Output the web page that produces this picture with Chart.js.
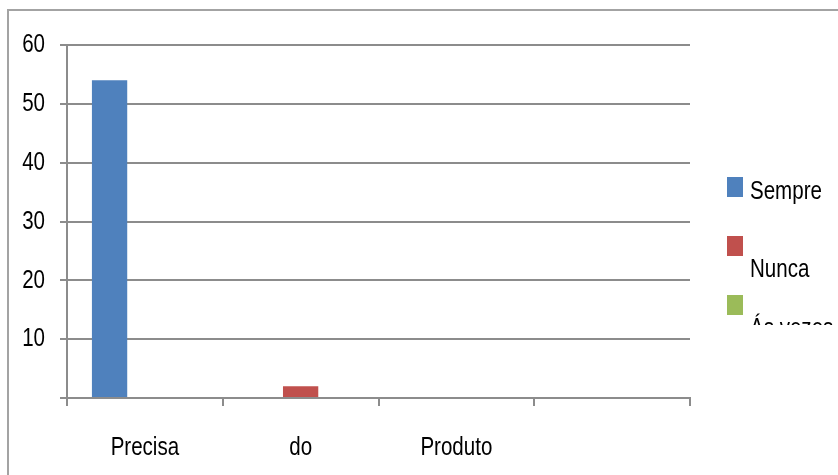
<!DOCTYPE html>
<html>
<head>
<meta charset="utf-8">
<script src="https://cdn.jsdelivr.net/npm/chart.js@4.4.0/dist/chart.umd.min.js"></script>
<style>
  html, body { margin: 0; padding: 0; background: #fff; overflow: hidden; }
  #wrap { position: relative; width: 838px; height: 475px; }
  #frame { position: absolute; left: 7px; top: 9px; width: 900px; height: 500px; border: 2px solid #a3a3a3; box-sizing: border-box; }
  #chart { position: absolute; left: 0; top: 0; }
  #legend { position: absolute; left: 720px; top: 170px; width: 118px; height: 155px; overflow: hidden;
            font-family: "Liberation Sans", Arial, sans-serif; font-size: 26px; color: #000; }
  .box { position: absolute; left: 7px; width: 16px; height: 20px; }
  .txt { position: absolute; left: 30px; white-space: nowrap; line-height: 26px;
         transform: scaleX(0.79); transform-origin: 0 0; }
</style>
</head>
<body>
<div id="wrap">
  <div id="frame"></div>
  <canvas id="chart" width="838" height="475"></canvas>
  <div id="legend"></div>
</div>
<script>
var categories = ["Precisa", "do", "Produto", ""];
var seriesNames = ["Sempre", "Nunca", "Ás vezes"];
var sempre = [54, 0, 0, 0];
var nunca = [0, 2, 0, 0];
var asVezes = [0, 0, 0, 0];
var yTicks = [0, 10, 20, 30, 40, 50, 60];

var colors = ["#4F81BD", "#C0504D", "#9BBB59"];
var fontFamily = "'Liberation Sans', Arial, sans-serif";
var gridColor = "#8c8c8c";
var textSquash = 0.79;

// legend drawn as html so the odd text placement of the original can be kept
var legendRows = [
    { box: 7, text: 7 },
    { box: 66, text: 85 },
    { box: 125, text: 144 }
];
var legendEl = document.getElementById("legend");
seriesNames.forEach(function (name, i) {
    var box = document.createElement("div");
    box.className = "box";
    box.style.top = legendRows[i].box + "px";
    box.style.background = colors[i];
    var txt = document.createElement("div");
    txt.className = "txt";
    txt.style.top = legendRows[i].text + "px";
    txt.textContent = name;
    legendEl.appendChild(box);
    legendEl.appendChild(txt);
});

// the original text is tall and narrow, so squeeze the canvas text sideways
var narrowText = {
    id: "narrowText",
    beforeDraw: function (chart) {
        var c = chart.ctx;
        if (c._narrow) return;
        var fill = c.fillText;
        c.fillText = function (text, x, y) {
            this.save();
            this.translate(x, y);
            this.scale(textSquash, 1);
            fill.call(this, text, 0, 0);
            this.restore();
        };
        c._narrow = true;
    }
};

var ctx = document.getElementById("chart").getContext("2d");
var chart = new Chart(ctx, {
    type: "bar",
    data: {
        labels: categories,
        datasets: [
            { label: seriesNames[0], data: sempre, backgroundColor: colors[0] },
            { label: seriesNames[1], data: nunca, backgroundColor: colors[1] },
            { label: seriesNames[2], data: asVezes, backgroundColor: colors[2] }
        ]
    },
    plugins: [narrowText],
    options: {
        responsive: false,
        animation: false,
        categoryPercentage: 0.68,
        barPercentage: 1.0,
        layout: { padding: { left: 0, top: 45, right: 148, bottom: 0 } },
        plugins: {
            legend: { display: false },
            tooltip: { enabled: false }
        },
        scales: {
            x: {
                grid: {
                    offset: true,
                    drawOnChartArea: false,
                    color: gridColor,
                    lineWidth: 2,
                    tickLength: 8
                },
                border: { color: gridColor, width: 2 },
                ticks: {
                    color: "#000",
                    padding: 26,
                    font: { family: fontFamily, size: 26 }
                },
                afterFit: function (scale) { scale.height = 77; }
            },
            y: {
                min: 0,
                max: 60,
                afterBuildTicks: function (scale) {
                    scale.ticks = yTicks.map(function (v) { return { value: v }; });
                },
                grid: {
                    color: gridColor,
                    lineWidth: 2,
                    tickLength: 7
                },
                border: { color: gridColor, width: 2 },
                ticks: {
                    color: "#000",
                    padding: 15,
                    font: { family: fontFamily, size: 26 },
                    callback: function (v) { return v === 0 ? "" : v; }
                },
                afterFit: function (scale) { scale.width = 67; }
            }
        }
    }
});
</script>
</body>
</html>
